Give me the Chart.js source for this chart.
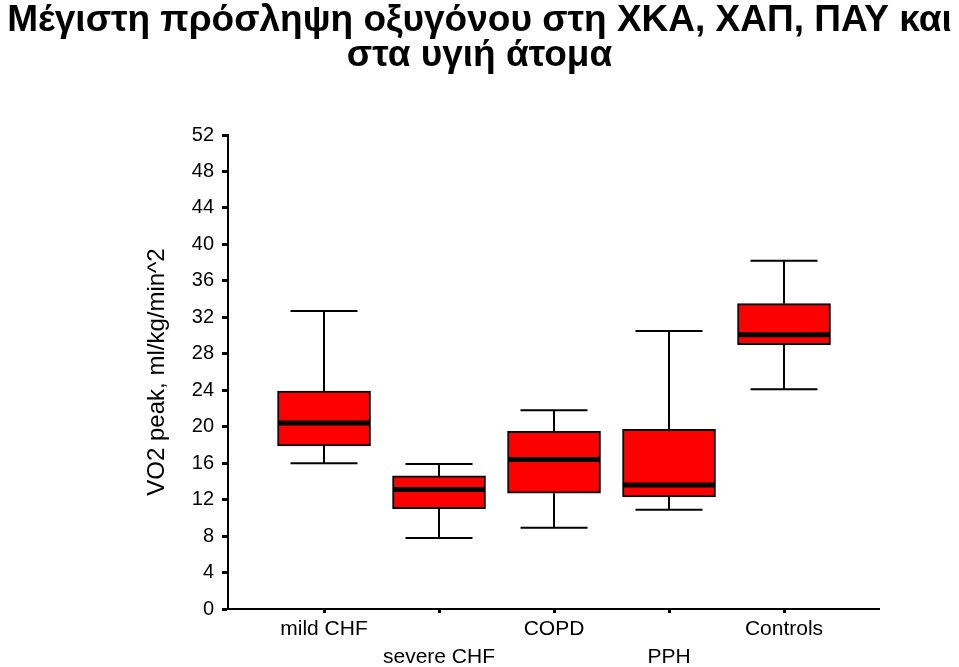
<!DOCTYPE html>
<html>
<head>
<meta charset="utf-8">
<script src="https://cdn.jsdelivr.net/npm/chart.js@4/dist/chart.umd.min.js"></script>
<style>
  html, body { margin: 0; padding: 0; background: #ffffff; }
  #wrap { width: 959px; height: 667px; position: relative; }
</style>
</head>
<body>
<div id="wrap"><canvas id="c"></canvas></div>
<script>
// ---- data ----
const titleLines = ['Μέγιστη πρόσληψη οξυγόνου στη ΧΚΑ, ΧΑΠ, ΠΑΥ και', 'στα υγιή άτομα'];
const yAxisTitle = 'VO2 peak, ml/kg/min^2';
const categories = ['mild CHF', 'severe CHF', 'COPD', 'PPH', 'Controls'];
const whiskerLow  = [16.0,  7.8,  8.9, 10.9, 24.1];
const quartile1   = [17.9, 11.0, 12.7, 12.3, 29.0];
const medians     = [20.4, 13.1, 16.4, 13.6, 30.1];
const quartile3   = [23.9, 14.6, 19.5, 19.7, 33.5];
const whiskerHigh = [32.7, 15.9, 21.8, 30.5, 38.2];
const yTickValues = [0, 4, 8, 12, 16, 20, 24, 28, 32, 36, 40, 44, 48, 52];

const FONT = "'Liberation Sans', Arial, Helvetica, sans-serif";

// whiskers and medians drawn through the chart's own scales
const boxPlotExtras = {
  id: 'boxPlotExtras',
  afterDatasetsDraw(chart, args, opts) {
    const {ctx, scales: {x, y}} = chart;
    const meta = chart.getDatasetMeta(0);
    ctx.save();
    ctx.strokeStyle = '#000000';
    ctx.lineCap = 'butt';
    categories.forEach((c, i) => {
      const cx = Math.round(x.getPixelForValue(i + 1));
      const bar = meta.data[i];
      const halfBox = bar ? bar.width / 2 : 46;
      const yLo = y.getPixelForValue(whiskerLow[i]);
      const yQ1 = y.getPixelForValue(quartile1[i]);
      const yMed = y.getPixelForValue(medians[i]);
      const yQ3 = y.getPixelForValue(quartile3[i]);
      const yHi = y.getPixelForValue(whiskerHigh[i]);
      ctx.lineWidth = opts.whiskerWidth;
      ctx.beginPath();
      ctx.moveTo(cx, yQ3); ctx.lineTo(cx, yHi);
      ctx.moveTo(cx - opts.capHalf, yHi); ctx.lineTo(cx + opts.capHalf, yHi);
      ctx.moveTo(cx, yQ1); ctx.lineTo(cx, yLo);
      ctx.moveTo(cx - opts.capHalf, yLo); ctx.lineTo(cx + opts.capHalf, yLo);
      ctx.stroke();
      ctx.lineWidth = opts.medianWidth;
      ctx.beginPath();
      ctx.moveTo(cx - halfBox + 1, yMed); ctx.lineTo(cx + halfBox - 1, yMed);
      ctx.stroke();
    });
    ctx.restore();
  }
};

const boxData = categories.map((c, i) => ({x: i + 1, y: [quartile1[i], quartile3[i]]}));

new Chart(document.getElementById('c'), {
  type: 'bar',
  data: {
    datasets: [{
      label: 'IQR',
      data: boxData,
      backgroundColor: '#ff0000',
      borderColor: '#000000',
      borderWidth: 2,
      borderSkipped: false,
      barThickness: 93
    }]
  },
  options: {
    responsive: true,
    maintainAspectRatio: false,
    animation: false,
    devicePixelRatio: 1,
    layout: { padding: { left: 0, right: 0, top: 0, bottom: 0 } },
    plugins: {
      legend: { display: false },
      tooltip: { enabled: false },
      title: {
        display: true,
        text: titleLines,
        color: '#000000',
        font: { family: FONT, size: 37, weight: 'bold', lineHeight: '35px' },
        padding: { top: 3, bottom: 62 }
      },
      boxPlotExtras: { whiskerWidth: 2, medianWidth: 5, capHalf: 33.5 }
    },
    scales: {
      x: {
        type: 'linear',
        min: 0.165,
        max: 5.826,
        offset: false,
        afterBuildTicks(scale) {
          scale.ticks = categories.map((c, i) => ({ value: i + 1 }));
        },
        afterFit(scale) { scale.height = 58; },
        ticks: {
          autoSkip: false,
          maxRotation: 0,
          color: '#000000',
          padding: 2,
          font: { family: FONT, size: 21, lineHeight: 1.333 },
          callback(value) {
            const i = Math.round(value) - 1;
            const name = categories[i];
            return i % 2 === 0 ? name : ['', name];
          }
        },
        grid: {
          display: true,
          offset: false,
          drawOnChartArea: false,
          drawTicks: true,
          tickLength: 4,
          tickWidth: 3,
          tickColor: '#000000'
        },
        border: { display: true, color: '#000000', width: 2 }
      },
      y: {
        type: 'linear',
        min: 0,
        max: 52,
        afterBuildTicks(scale) {
          scale.ticks = yTickValues.map(v => ({ value: v }));
        },
        afterFit(scale) { scale.width = 228; },
        ticks: {
          color: '#000000',
          padding: 8,
          font: { family: FONT, size: 20 }
        },
        grid: {
          display: true,
          drawOnChartArea: false,
          drawTicks: true,
          tickLength: 6,
          tickWidth: 3,
          tickColor: '#000000'
        },
        border: { display: true, color: '#000000', width: 2 },
        title: {
          display: true,
          text: yAxisTitle,
          color: '#000000',
          font: { family: FONT, size: 24 },
          padding: { top: 143, bottom: 0 }
        }
      },
      yRight: {
        type: 'linear',
        position: 'right',
        display: true,
        min: 0,
        max: 52,
        afterFit(scale) { scale.width = 80; },
        ticks: { display: false },
        grid: { display: false, drawTicks: false },
        border: { display: false }
      }
    }
  },
  plugins: [boxPlotExtras]
});
</script>
</body>
</html>
